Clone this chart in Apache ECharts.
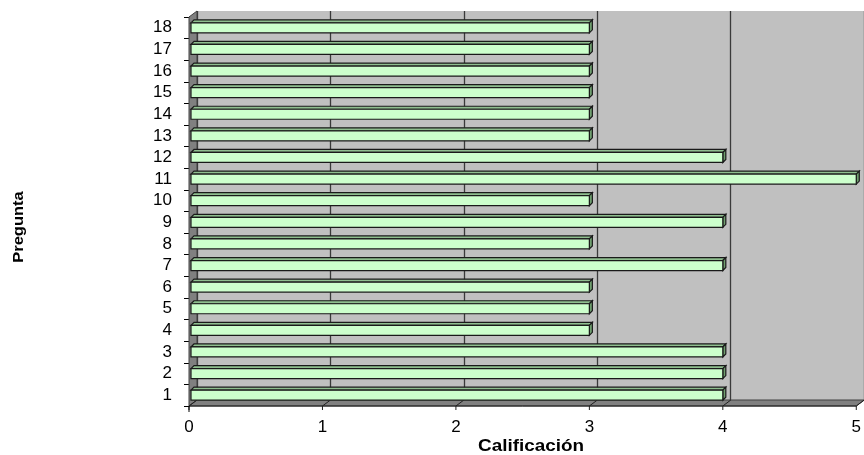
<!DOCTYPE html>
<html><head><meta charset="utf-8">
<script src="https://cdn.jsdelivr.net/npm/echarts@6/dist/echarts.min.js"></script>
<style>html,body{margin:0;padding:0;background:#fff}#c{width:864px;height:455px}</style>
</head><body><div id="c"></div>
<script>
const categories = ['1','2','3','4','5','6','7','8','9','10','11','12','13','14','15','16','17','18'];
const values = [4,4,4,3,3,3,4,3,4,3,5,4,3,3,3,3,3,3];
const xTicks = [0,1,2,3,4,5];
const xTitle = 'Calificación';
const yTitle = 'Pregunta';

const chart = echarts.init(document.getElementById('c'), null, {renderer:'canvas'});
const FONT = '"Liberation Sans", Arial, sans-serif';
const DX = 8, DY = 6;

const option = {
  animation:false,
  backgroundColor:'#fff',
  grid:[
    {left:189, top:17, width:671, height:389, containLabel:false},
    {left:189+DX, top:17-DY, width:671, height:389, show:true, backgroundColor:'#c0c0c0', borderWidth:0, z:0}
  ],
  xAxis:[
    {gridIndex:0, type:'value', min:0, max:5, interval:1,
     axisLine:{show:false}, axisTick:{show:false},
     axisLabel:{fontFamily:FONT, fontSize:17, color:'#000', margin:13},
     splitLine:{show:false}},
    {gridIndex:1, type:'value', min:0, max:5, interval:1,
     axisLine:{show:false}, axisTick:{show:false}, axisLabel:{show:false},
     splitLine:{show:true, lineStyle:{color:'#3a3a3a', width:1.3}}}
  ],
  yAxis:[
    {gridIndex:0, type:'category', data:categories,
     axisLine:{show:true, lineStyle:{color:'#000', width:1}},
     axisTick:{show:true, length:5, interval:0, lineStyle:{color:'#000'}},
     axisLabel:{fontFamily:FONT, fontSize:17, color:'#000', margin:17, interval:0, hideOverlap:false},
     splitLine:{show:false}},
    {gridIndex:1, type:'category', data:categories,
     axisLine:{show:false}, axisTick:{show:false}, axisLabel:{show:false}, splitLine:{show:false}}
  ],
  series:[{
    type:'custom', xAxisIndex:0, yAxisIndex:0, z:10,
    data: values.map((v,i)=>[v,i]),
    renderItem:function(params, api){
      const v = api.value(0), idx = api.value(1);
      const p0 = api.coord([0, idx]);
      const p1 = api.coord([v, idx]);
      const h = 10, d = 3;
      const x0 = p0[0]+2, x1 = p1[0], yc = p0[1];
      const yt = yc - h/2, yb = yc + h/2;
      return {type:'group', children:[
        {type:'polygon', shape:{points:[[x0,yt],[x0+d,yt-d],[x1+d,yt-d],[x1,yt]]},
         style:{fill:'#8fbf8f', stroke:'#1a1a1a', lineWidth:1.2}},
        {type:'polygon', shape:{points:[[x1,yt],[x1+d,yt-d],[x1+d,yb-d],[x1,yb]]},
         style:{fill:'#6f9f6f', stroke:'#1a1a1a', lineWidth:1.2}},
        {type:'rect', shape:{x:x0, y:yt, width:x1-x0, height:h},
         style:{fill:'#ccffcc', stroke:'#1a1a1a', lineWidth:1.2}}
      ]};
    }
  }]
};
chart.setOption(option);

// 3D side wall and floor, positioned via the axis scales
const pTop = 17, pBot = 406;
const xAt = v => chart.convertToPixel({xAxisIndex:0}, v);
const left = xAt(0), right = xAt(5);
const g = [];
g.push({type:'polygon', z:1, shape:{points:[[left,pTop],[left+DX,pTop-DY],[left+DX,pBot-DY],[left,pBot]]},
  style:{fill:'#808080', stroke:'#404040', lineWidth:1}});
g.push({type:'polygon', z:1, shape:{points:[[left,pBot],[left+DX,pBot-DY],[right+DX,pBot-DY],[right,pBot]]},
  style:{fill:'#808080', stroke:'#404040', lineWidth:1}});
xTicks.forEach(t=>{
  const x = xAt(t);
  g.push({type:'line', z:2, shape:{x1:x, y1:pBot+4, x2:x, y2:pBot}, style:{stroke:'#202020', lineWidth:1}});
  g.push({type:'line', z:2, shape:{x1:x, y1:pBot, x2:x+DX, y2:pBot-DY}, style:{stroke:'#202020', lineWidth:1}});
});
g.push({type:'line', z:2, shape:{x1:left, y1:pBot, x2:right, y2:pBot}, style:{stroke:'#202020', lineWidth:1}});
g.push({type:'line', z:2, shape:{x1:left, y1:pBot, x2:left, y2:pBot+6}, style:{stroke:'#000', lineWidth:1}});
// axis titles
g.push({type:'text', z:5, x:531, y:447, scaleX:1.18, style:{text:xTitle, font:'bold 16px '+FONT, fill:'#000', align:'center', verticalAlign:'middle'}});
g.push({type:'text', z:5, x:19, y:227, rotation:Math.PI/2, scaleX:1.18, style:{text:yTitle, font:'bold 14px '+FONT, fill:'#000', align:'center', verticalAlign:'middle'}});
chart.setOption({graphic:g});
</script></body></html>
